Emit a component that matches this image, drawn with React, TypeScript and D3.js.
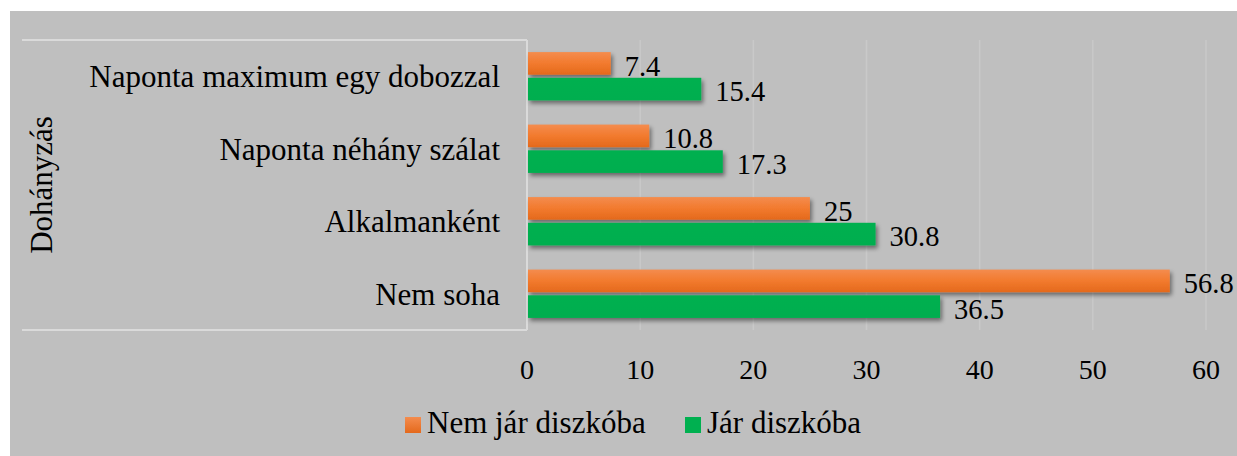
import React from "react";
import * as d3 from "d3";

const categories = [
  "Naponta maximum egy dobozzal",
  "Naponta néhány szálat",
  "Alkalmanként",
  "Nem soha",
];
const seriesNames = ["Nem jár diszkóba", "Jár diszkóba"];
const nemJar = [7.4, 10.8, 25, 56.8];
const jar = [15.4, 17.3, 30.8, 36.5];
const xTicks = [0, 10, 20, 30, 40, 50, 60];
const groupTitle = "Dohányzás";

const W = 1237;
const H = 456;
const FONT =
  "'Times New Roman', Times, Tinos, 'Liberation Serif', 'Noto Serif', 'DejaVu Serif', FreeSerif, serif";

export default function App() {
  const x = d3.scaleLinear().domain([0, 60]).range([527, 1206]);
  const y = d3.scaleBand<string>().domain(categories).range([40, 330]);
  const inner = d3
    .scaleBand<number>()
    .domain([0, 1])
    .range([0, y.bandwidth()])
    .paddingInner(0.12)
    .paddingOuter(0.47);
  const series = [nemJar, jar];
  const fills = ["url(#gOrange)", "url(#gGreen)"];
  const legendColors = ["url(#gOrangeL)", "#00b050"];
  const txt = { fontFamily: FONT };

  return (
    <div style={{ position: "absolute", left: 0, top: 0 }}>
      <svg width={W} height={H} style={{ display: "block", fontFamily: FONT }}>
        <defs>
          <linearGradient id="gOrange" x1="0" y1="0" x2="0" y2="1">
            <stop offset="0" stopColor="#f48c4e" />
            <stop offset="0.5" stopColor="#f27a2e" />
            <stop offset="1" stopColor="#e4691c" />
          </linearGradient>
          <linearGradient id="gOrangeL" x1="0" y1="0" x2="0" y2="1">
            <stop offset="0" stopColor="#f48c4e" />
            <stop offset="1" stopColor="#e4691c" />
          </linearGradient>
          <linearGradient id="gGreen" x1="0" y1="0" x2="0" y2="1">
            <stop offset="0" stopColor="#00b050" />
            <stop offset="1" stopColor="#00ae4f" />
          </linearGradient>
          <filter id="shadow" x="-5%" y="-50%" width="115%" height="220%">
            <feDropShadow dx="2" dy="3" stdDeviation="2" floodColor="#000" floodOpacity="0.45" />
          </filter>
        </defs>
        <rect x={10} y={11} width={W - 10} height={H - 11} fill="#bfbfbf" />
        {xTicks.slice(1).map((t) => (
          <line
            key={"g" + t}
            x1={x(t)}
            x2={x(t)}
            y1={40}
            y2={330}
            stroke="#c9c9c9"
            strokeWidth={1.5}
          />
        ))}
        <line x1={22} x2={527} y1={40} y2={40} stroke="#dadada" strokeWidth={2} />
        <line x1={22} x2={527} y1={330} y2={330} stroke="#dadada" strokeWidth={2} />
        <line x1={x(0)} x2={x(0)} y1={40} y2={330} stroke="#dadada" strokeWidth={2} />
        {categories.map((c, i) => (
          <g key={c}>
            {series.map((s, j) => {
              const by = (y(c) as number) + (inner(j) as number);
              const bh = inner.bandwidth();
              return (
                <g key={j}>
                  <rect
                    x={x(0) + 1}
                    y={by}
                    width={x(s[i]) - x(0) - 1}
                    height={bh}
                    fill={fills[j]}
                    filter="url(#shadow)"
                  />
                  <text
                    x={x(s[i]) + 14}
                    y={by + bh + 1}
                    style={txt}
                    fontSize={28.5}
                    fill="#000"
                  >
                    {s[i]}
                  </text>
                </g>
              );
            })}
            <text
              x={500}
              y={(y(c) as number) + y.bandwidth() / 2}
              dy="0.35em"
              textAnchor="end"
              style={txt}
              fontSize={31}
              fill="#000"
            >
              {c}
            </text>
          </g>
        ))}
        <text
          transform={`translate(52,185) rotate(-90)`}
          textAnchor="middle"
          style={txt}
          fontSize={31}
          fill="#000"
        >
          {groupTitle}
        </text>
        {xTicks.map((t) => (
          <text
            key={"t" + t}
            x={x(t)}
            y={379}
            textAnchor="middle"
            style={txt}
            fontSize={28}
            fill="#000"
          >
            {t}
          </text>
        ))}
        {seriesNames.map((n, j) => {
          const lx = j === 0 ? 405 : 685;
          return (
            <g key={n}>
              <rect x={lx} y={417} width={16} height={16} fill={legendColors[j]} />
              <text x={lx + 22} y={433} style={txt} fontSize={31} fill="#000">
                {n}
              </text>
            </g>
          );
        })}
      </svg>
    </div>
  );
}
